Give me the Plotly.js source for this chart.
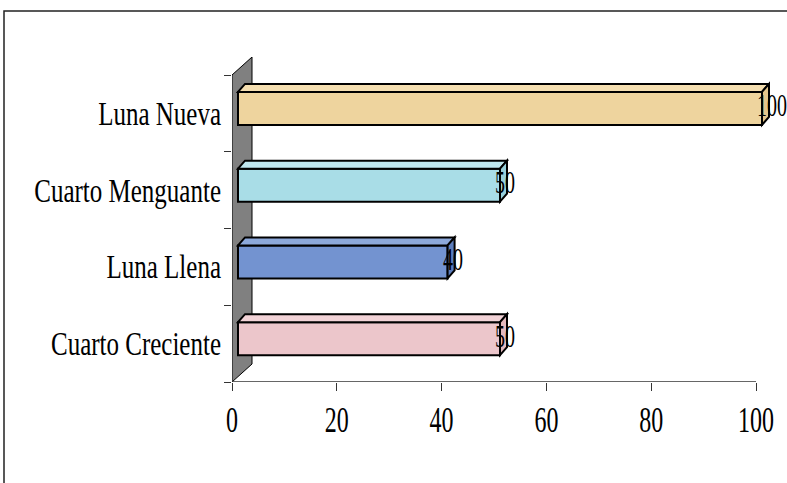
<!DOCTYPE html>
<html>
<head>
<meta charset="utf-8">
<script src="https://cdn.plot.ly/plotly-3.0.1.min.js"></script>
<style>
  html, body { margin: 0; padding: 0; background: #fff; }
  #chart { width: 787px; height: 483px; }
</style>
</head>
<body>
<div id="chart"></div>
<script>
// Moon phase counts, bottom to top
const categories = ['Cuarto Creciente', 'Luna Llena', 'Cuarto Menguante', 'Luna Nueva'];
const values = [50, 40, 50, 100];
const xTickVals = [0, 20, 40, 60, 80, 100];
const xTickText = ['0', '20', '40', '60', '80', '100'];

// Face colours per bar: front, top, end
const frontColors = ['#ECC6CB', '#7393D0', '#A9DDE7', '#EED49E'];
const topColors   = ['#F2D3D7', '#8DA9DA', '#BFE7EF', '#F4DEB0'];
const endColors   = ['#E2B9BE', '#5C7DBC', '#97CFDA', '#E4C68C'];

// Page geometry (px)
const W = 787, H = 483;
const M = { l: 232, r: 17, t: 57, b: 101 };
const plotW = W - M.l - M.r;
const plotH = H - M.t - M.b;
const wallDepth = { x: 20, y: 18 };       // side wall thickness in perspective
const xUnit = 5.24;                        // px per value unit
const yUnit = (plotH - wallDepth.y) / categories.length; // px per category
const barShift = { x: 6, y: 5 };           // front face of bars sits inside the wall depth
const barDepth = { x: 7, y: 8 };           // visible top / end face depth
const barThick = 33;                       // px

const xRange = [0, plotW / xUnit];
const yRange = [-0.5, -0.5 + plotH / yUnit];
const x2Range = [xRange[0] - barShift.x / xUnit, xRange[1] - barShift.x / xUnit];
const y2Range = [yRange[0] - barShift.y / yUnit, yRange[1] - barShift.y / yUnit];

const idx = categories.map((c, i) => i);
const bw = barThick / yUnit;
const dx = barDepth.x / xUnit, dy = barDepth.y / yUnit;
const wdx = wallDepth.x / xUnit, wdy = wallDepth.y / yUnit;

const fam = 'Liberation Serif, Times New Roman, serif';
const catFont = { family: fam, size: 25, color: '#000' };
const numFont = { family: fam, size: 24, color: '#000' };
const labelFont = { family: fam, size: 20, color: '#000' };

const shapes = [];
// grey side wall
const y0 = -0.5, y1 = categories.length - 0.5;
shapes.push({
  type: 'path', xref: 'x', yref: 'y', layer: 'below',
  path: `M0,${y0} L0,${y1} L${wdx},${y1 + wdy} L${wdx},${y0 + wdy} Z`,
  fillcolor: '#808080', line: { color: '#000', width: 1 }
});
// value axis line
shapes.push({
  type: 'line', xref: 'x', yref: 'y', layer: 'below',
  x0: 0, x1: xTickVals[xTickVals.length - 1], y0: y0, y1: y0,
  line: { color: '#333', width: 1.5 }
});
// top and end faces of each bar
idx.forEach(i => {
  const v = values[i];
  const t = i + bw / 2, b = i - bw / 2;
  shapes.push({
    type: 'path', xref: 'x2', yref: 'y2', layer: 'above',
    path: `M0,${t} L${dx},${t + dy} L${v + dx},${t + dy} L${v},${t} Z`,
    fillcolor: topColors[i], line: { color: '#000', width: 2 }
  });
  shapes.push({
    type: 'path', xref: 'x2', yref: 'y2', layer: 'above',
    path: `M${v},${b} L${v},${t} L${v + dx},${t + dy} L${v + dx},${b + dy} Z`,
    fillcolor: endColors[i], line: { color: '#000', width: 2 }
  });
});
// chart frame
shapes.push({
  type: 'rect', xref: 'paper', yref: 'paper', layer: 'below',
  x0: (4 - M.l) / plotW, x1: (W + 5 - M.l) / plotW,
  y0: -(H + 5 - M.t - plotH) / plotH, y1: 1 + (M.t - 11) / plotH,
  line: { color: '#222', width: 1.5 }, fillcolor: 'rgba(0,0,0,0)'
});

// value labels
const annotations = idx.map(i => ({
  xref: 'x2', yref: 'y2', x: values[i], y: i,
  text: String(values[i]), showarrow: false,
  xanchor: 'left', yanchor: 'middle', xshift: -7, yshift: 3,
  font: labelFont
}));

const traces = [
  { type: 'scatter', x: [], y: [], xaxis: 'x', yaxis: 'y', showlegend: false, hoverinfo: 'skip' },
  {
    type: 'bar', orientation: 'h', xaxis: 'x2', yaxis: 'y2',
    x: values, y: idx, width: bw,
    marker: { color: frontColors, line: { color: '#000', width: 2 } },
    hoverinfo: 'skip', showlegend: false
  }
];

const layout = {
  width: W, height: H,
  margin: M,
  paper_bgcolor: '#fff', plot_bgcolor: 'rgba(0,0,0,0)',
  font: catFont,
  showlegend: false,
  xaxis: {
    range: xRange, tickmode: 'array', tickvals: xTickVals, ticktext: xTickText,
    ticks: 'outside', ticklen: 8, tickwidth: 1, tickcolor: '#333',
    showgrid: false, zeroline: false, showline: false,
    ticklabelstandoff: 9, tickfont: numFont, fixedrange: true
  },
  yaxis: {
    range: yRange, tickmode: 'array', tickvals: idx, ticktext: categories,
    ticks: '', showgrid: false, zeroline: false, showline: false,
    minor: {
      tickmode: 'array', tickvals: idx.map(i => i - 0.5).concat([categories.length - 0.5]),
      ticks: 'outside', ticklen: 7, tickwidth: 1, tickcolor: '#333', showgrid: false
    },
    ticklabelstandoff: 10, tickfont: catFont, fixedrange: true
  },
  xaxis2: { overlaying: 'x', range: x2Range, visible: false, fixedrange: true },
  yaxis2: { overlaying: 'y', range: y2Range, visible: false, fixedrange: true },
  shapes: shapes,
  annotations: annotations
};

// Times-style lettering is drawn taller than wide; stretch labels vertically about their centre
function stretchText(root, selector, k) {
  root.querySelectorAll(selector).forEach(t => {
    const bb = t.getBBox();
    const cy = bb.y + bb.height / 2;
    const prev = t.getAttribute('transform') || '';
    t.setAttribute('transform', `${prev} translate(0,${cy}) scale(1,${k}) translate(0,${-cy})`);
  });
}

const gd = document.getElementById('chart');
Plotly.newPlot(gd, traces, layout, { staticPlot: true, displayModeBar: false }).then(() => {
  stretchText(gd, 'g.ytick text', 1.32);
  stretchText(gd, 'g.xtick text', 1.45);
  stretchText(gd, 'text.annotation-text', 1.55);
});
</script>
</body>
</html>
